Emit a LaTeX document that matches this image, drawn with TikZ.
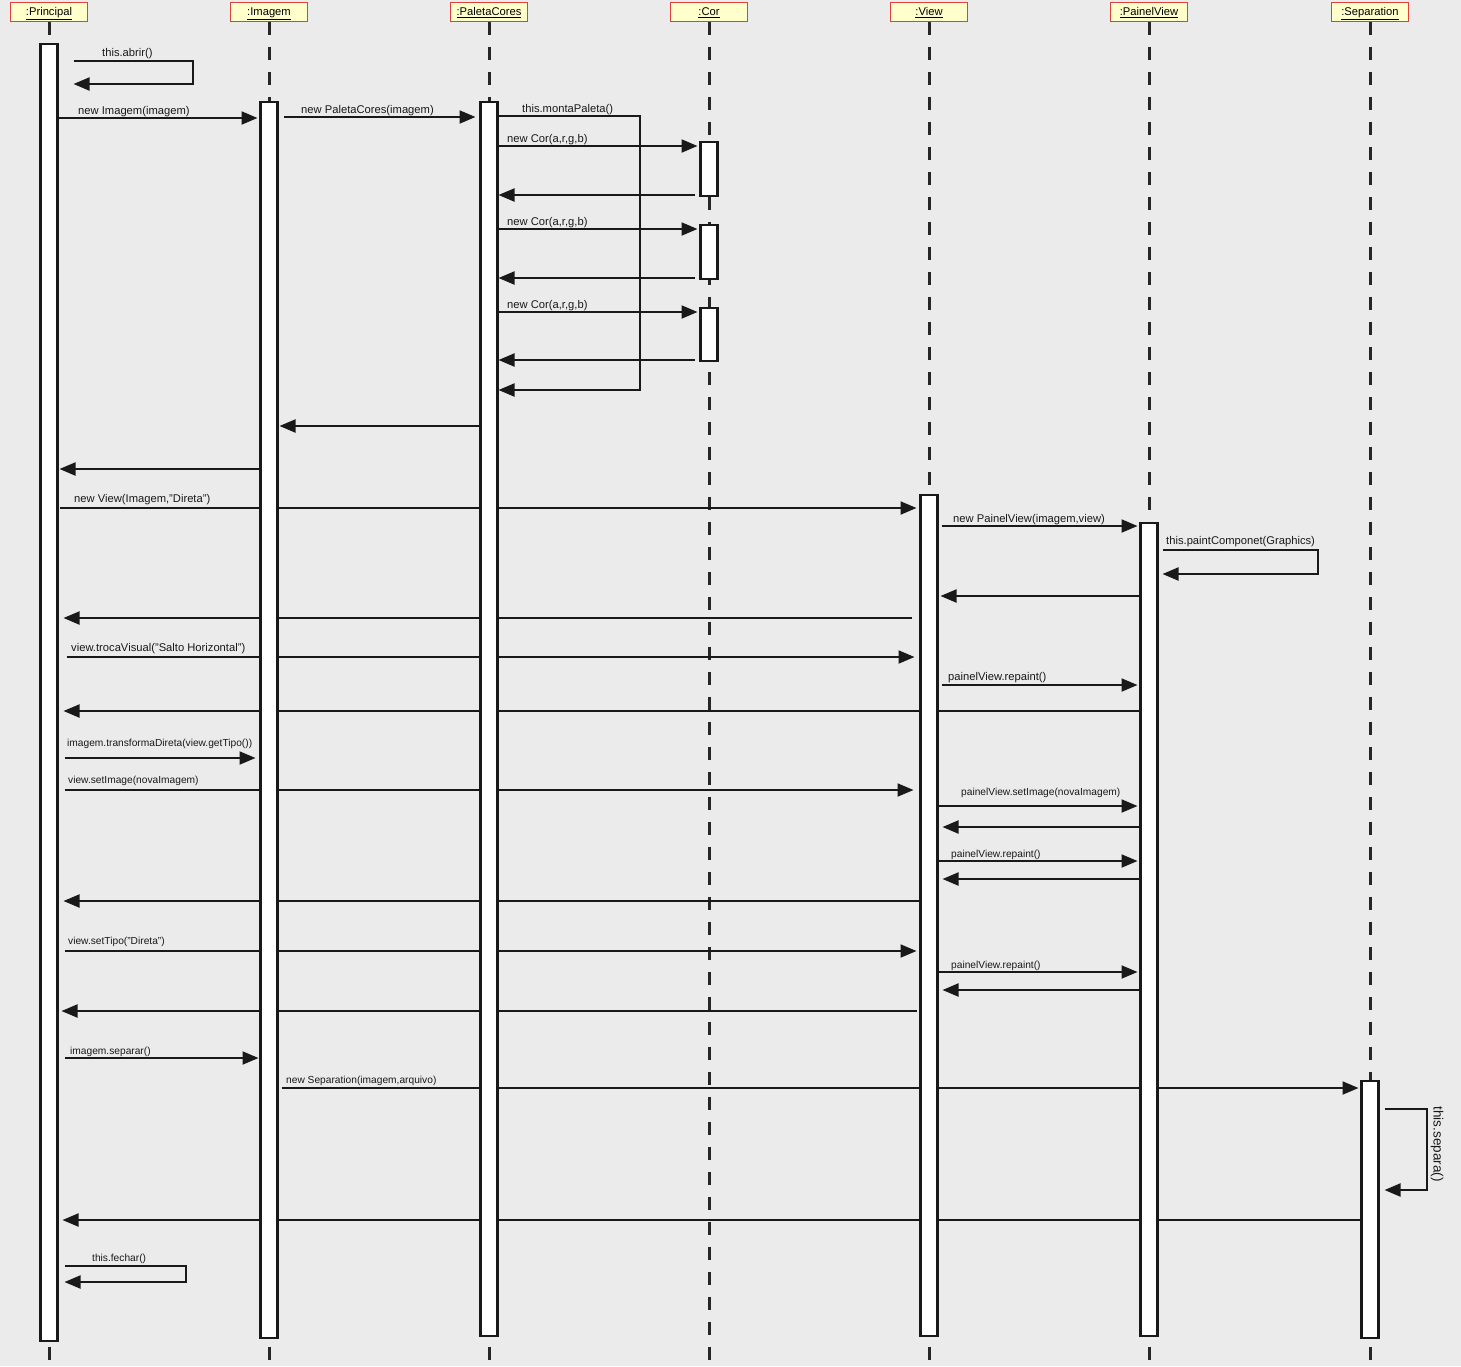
\documentclass[tikz,border=0pt]{standalone}
\usepackage{fontspec}
\setmainfont{Liberation Sans}
\usetikzlibrary{arrows.meta}
\definecolor{paper}{HTML}{EBEBEB}
\definecolor{headfill}{HTML}{FFFFCC}
\definecolor{headline}{HTML}{E0403A}
\pgfdeclarelayer{paperlayer}
\pgfdeclarelayer{wires}
\pgfsetlayers{paperlayer,wires,main}

\begin{document}
\begin{tikzpicture}[x=1pt,y=-1pt,>={Triangle[length=16pt,width=13pt]},
  font=\fontsize{11.2}{13}\selectfont,
  obj/.style={draw=headline,fill=headfill,line width=1.7pt,minimum width=77pt,minimum height=19pt,inner sep=0pt,outer sep=0pt,text height=9pt,text depth=2pt},
  actbar/.style={draw=black!90,fill=white,line width=2.2pt,minimum width=17pt,inner sep=0pt,outer sep=0pt,anchor=north},
  life/.style={line width=3pt,black!85,dash pattern=on 13pt off 12pt},
  call/.style={line width=2pt,black!90,->,shorten <=4pt,shorten >=3pt},
  ret/.style={line width=2pt,black!90,->,shorten <=4pt,shorten >=3pt},
  lbl/.style={anchor=base west,inner sep=0pt,black!90},
  lblsm/.style={lbl,font=\fontsize{10.2}{12}\selectfont}]
\begin{pgfonlayer}{paperlayer}
\fill[paper] (0,0) rectangle (1461,1366);
\end{pgfonlayer}
\useasboundingbox (0,0) rectangle (1461,1366);

% objects
\node[obj] (prin) at (49,12) {\underline{:Principal}};
\node[obj] (imag) at (269,12) {\underline{:Imagem}};
\node[obj] (pal) at (489,12) {\underline{:PaletaCores}};
\node[obj] (cor) at (709,12) {\underline{:Cor}};
\node[obj] (view) at (929,12) {\underline{:View}};
\node[obj] (pain) at (1149,12) {\underline{:PainelView}};
\node[obj] (sep) at (1370,12) {\underline{:Separation}};

% lifelines
\begin{pgfonlayer}{wires}
\draw[life] (prin.south) -- (prin.south |- 0,1366);
\draw[life] (imag.south) -- (imag.south |- 0,1366);
\draw[life] (pal.south) -- (pal.south |- 0,1366);
\draw[life] (cor.south) -- (cor.south |- 0,1366);
\draw[life] (view.south) -- (view.south |- 0,1366);
\draw[life] (pain.south) -- (pain.south |- 0,1366);
\draw[life] (sep.south) -- (sep.south |- 0,1366);
\end{pgfonlayer}

% activations
\node[actbar,minimum height=1297pt] (prinbar) at (prin.south |- 0,44) {};
\node[actbar,minimum height=1236pt] (imbar) at (imag.south |- 0,102) {};
\node[actbar,minimum height=1234pt] (palbar) at (pal.south |- 0,102) {};
\node[actbar,minimum height=54pt] (corbarA) at (cor.south |- 0,142) {};
\node[actbar,minimum height=54pt] (corbarB) at (cor.south |- 0,225) {};
\node[actbar,minimum height=53pt] (corbarC) at (cor.south |- 0,308) {};
\node[actbar,minimum height=841pt] (viewbar) at (view.south |- 0,495) {};
\node[actbar,minimum height=813pt] (painbar) at (pain.south |- 0,523) {};
\node[actbar,minimum height=257pt] (sepbar) at (sep.south |- 0,1081) {};

\coordinate (abrirTurn) at (193,84);
\coordinate (montaTurn) at (640,390);
\coordinate (paintTurn) at (1318,574);
\coordinate (separaTurn) at (1427,1190);
\coordinate (fecharTurn) at (186,1282);

% messages
\begin{pgfonlayer}{wires}
\draw[call,shorten <=16pt,shorten >=16pt] (prinbar.east |- 0,61) -| (abrirTurn) -- (prinbar.east |- 0,84);
\draw[call,shorten <=0pt] (prinbar.east |- 0,118) -- (imbar.west |- 0,118);
\draw[call,shorten <=6pt,shorten >=5pt] (imbar.east |- 0,117) -- (palbar.west |- 0,117);
\draw[call,shorten <=0pt,shorten >=1pt] (palbar.east |- 0,116) -| (montaTurn) -- (palbar.east |- 0,390);
\draw[call,shorten <=0pt] (palbar.east |- 0,146) -- (corbarA.west |- 0,146);
\draw[ret,shorten <=6pt,shorten >=1pt] (corbarA.west |- 0,195) -- (palbar.east |- 0,195);
\draw[call,shorten <=0pt] (palbar.east |- 0,229) -- (corbarB.west |- 0,229);
\draw[ret,shorten <=6pt,shorten >=1pt] (corbarB.west |- 0,278) -- (palbar.east |- 0,278);
\draw[call,shorten <=0pt] (palbar.east |- 0,312) -- (corbarC.west |- 0,312);
\draw[ret,shorten <=6pt,shorten >=1pt] (corbarC.west |- 0,360) -- (palbar.east |- 0,360);
\draw[ret,shorten <=2pt,shorten >=2pt] (palbar.west |- 0,426) -- (imbar.east |- 0,426);
\draw[ret,shorten <=1pt,shorten >=2pt] (imbar.west |- 0,469) -- (prinbar.east |- 0,469);
\draw[call,shorten <=2pt,shorten >=4pt] (prinbar.east |- 0,508) -- (viewbar.west |- 0,508);
\draw[call] (viewbar.east |- 0,526) -- (painbar.west |- 0,526);
\draw[call,shorten <=5pt,shorten >=5pt] (painbar.east |- 0,550) -| (paintTurn) -- (painbar.east |- 0,574);
\draw[ret,shorten <=2pt] (painbar.west |- 0,596) -- (viewbar.east |- 0,596);
\draw[ret,shorten <=9pt,shorten >=6pt] (viewbar.west |- 0,618) -- (prinbar.east |- 0,618);
\draw[call,shorten <=9pt,shorten >=6pt] (prinbar.east |- 0,657) -- (viewbar.west |- 0,657);
\draw[call] (viewbar.east |- 0,685) -- (painbar.west |- 0,685);
\draw[ret,shorten <=0pt,shorten >=6pt] (painbar.west |- 0,711) -- (prinbar.east |- 0,711);
\draw[call,shorten <=7pt,shorten >=5pt] (prinbar.east |- 0,758) -- (imbar.west |- 0,758);
\draw[call,shorten <=7pt,shorten >=7pt] (prinbar.east |- 0,790) -- (viewbar.west |- 0,790);
\draw[call,shorten <=1pt] (viewbar.east |- 0,806) -- (painbar.west |- 0,806);
\draw[ret,shorten <=2pt,shorten >=5pt] (painbar.west |- 0,827) -- (viewbar.east |- 0,827);
\draw[call,shorten <=1pt] (viewbar.east |- 0,861) -- (painbar.west |- 0,861);
\draw[ret,shorten <=2pt,shorten >=5pt] (painbar.west |- 0,879) -- (viewbar.east |- 0,879);
\draw[ret,shorten <=2pt,shorten >=6pt] (viewbar.west |- 0,901) -- (prinbar.east |- 0,901);
\draw[call,shorten <=7pt,shorten >=4pt] (prinbar.east |- 0,951) -- (viewbar.west |- 0,951);
\draw[call,shorten <=1pt] (viewbar.east |- 0,972) -- (painbar.west |- 0,972);
\draw[ret,shorten <=2pt,shorten >=5pt] (painbar.west |- 0,990) -- (viewbar.east |- 0,990);
\draw[ret,shorten <=4pt,shorten >=4pt] (viewbar.west |- 0,1011) -- (prinbar.east |- 0,1011);
\draw[call,shorten <=7pt,shorten >=2pt] (prinbar.east |- 0,1058) -- (imbar.west |- 0,1058);
\draw[call,shorten <=4pt,shorten >=3pt] (imbar.east |- 0,1088) -- (sepbar.west |- 0,1088);
\draw[call,shorten <=6pt,shorten >=6pt] (sepbar.east |- 0,1109) -| (separaTurn) -- (sepbar.east |- 0,1190);
\draw[ret,shorten <=1pt,shorten >=5pt] (sepbar.west |- 0,1220) -- (prinbar.east |- 0,1220);
\draw[call,shorten <=7pt,shorten >=7pt] (prinbar.east |- 0,1266) -| (fecharTurn) -- (prinbar.east |- 0,1282);
\end{pgfonlayer}

% labels
\node[lbl] (tAbrir) at (102,56) {this.abrir()};
\node[lbl] (tNewImagem) at (78,114) {new Imagem(imagem)};
\node[lbl] (tNewPaleta) at (301,113) {new PaletaCores(imagem)};
\node[lbl] (tMonta) at (522,112) {this.montaPaleta()};
\node[lbl] (tCorA) at (507,142) {new Cor(a,r,g,b)};
\node[lbl] (tCorB) at (507,225) {new Cor(a,r,g,b)};
\node[lbl] (tCorC) at (507,308) {new Cor(a,r,g,b)};
\node[lbl] (tNewView) at (74,502) {new View(Imagem,"Direta")};
\node[lbl] (tNewPainel) at (953,522) {new PainelView(imagem,view)};
\node[lbl] (tPaint) at (1166,544) {this.paintComponet(Graphics)};
\node[lbl] (tTroca) at (71,651) {view.trocaVisual("Salto Horizontal")};
\node[lbl] (tRepaintA) at (948,680) {painelView.repaint()};
\node[lblsm] (tTransf) at (67,746) {imagem.transformaDireta(view.getTipo())};
\node[lblsm] (tSetImage) at (68,783) {view.setImage(novaImagem)};
\node[lblsm] (tPainelSet) at (961,795) {painelView.setImage(novaImagem)};
\node[lblsm] (tRepaintB) at (951,857) {painelView.repaint()};
\node[lblsm] (tSetTipo) at (68,944) {view.setTipo("Direta")};
\node[lblsm] (tRepaintC) at (951,968) {painelView.repaint()};
\node[lblsm] (tSeparar) at (70,1054) {imagem.separar()};
\node[lblsm] (tNewSep) at (286,1083) {new Separation(imagem,arquivo)};
\node[inner sep=0pt,rotate=-90,black!90,font=\fontsize{13.5}{15}\selectfont] (tSepara) at (1437,1144) {this.separa()};
\node[lblsm] (tFechar) at (92,1261) {this.fechar()};
\end{tikzpicture}
\end{document}
